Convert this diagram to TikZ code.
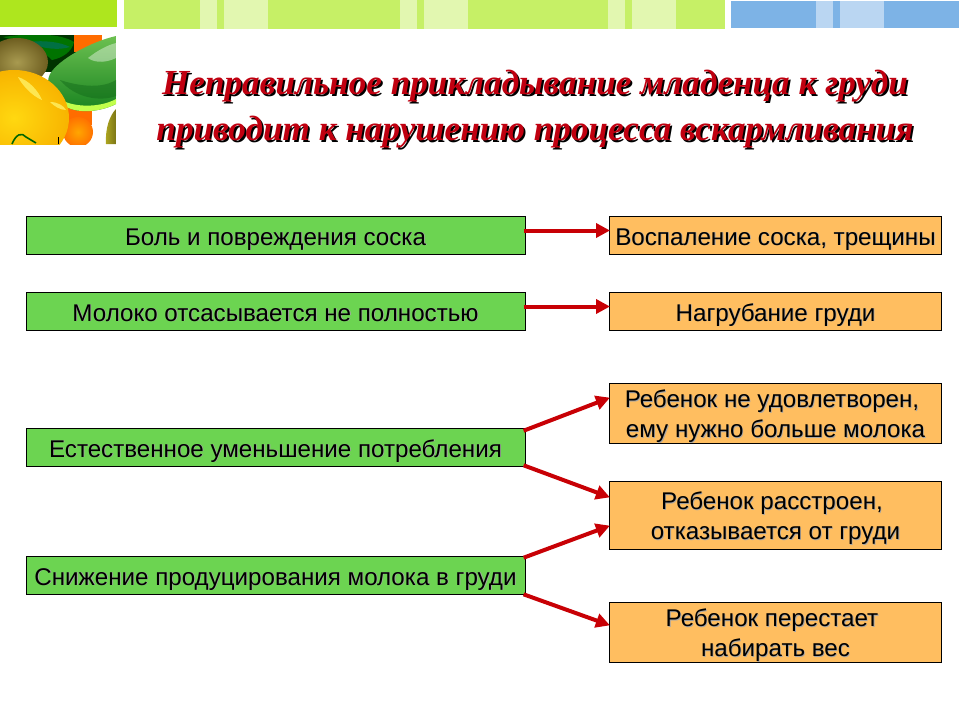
\documentclass[tikz,border=0pt]{standalone}
\usepackage{fontspec}
\setmainfont{Liberation Sans}
\newfontfamily\titlefont{Liberation Serif}
\usetikzlibrary{arrows.meta}
\definecolor{greenbox}{HTML}{6CD451}
\definecolor{orangebox}{HTML}{FFBE60}
\definecolor{arrowred}{HTML}{C80005}
\definecolor{titlered}{HTML}{C00010}
\definecolor{barlime}{HTML}{AEE61E}
\definecolor{barpale}{HTML}{C6F066}
\definecolor{barpaler}{HTML}{E2F7B0}
\definecolor{barblue}{HTML}{7DB3E6}
\definecolor{barbluel}{HTML}{BAD6F2}
\definecolor{kiwiin}{HTML}{A89A50}
\definecolor{kiwiout}{HTML}{6E5E20}
\definecolor{lemonin}{HTML}{FFD810}
\definecolor{lemonout}{HTML}{F8B400}
\definecolor{melontop}{HTML}{6CC050}
\definecolor{melonbot}{HTML}{14801E}
\definecolor{oliveside}{HTML}{B0A820}
\newcommand{\shtxt}[1]{\leavevmode\rlap{\kern0.8pt\raisebox{-0.8pt}{\textcolor{black!35}{#1}}}#1}
\newcommand{\tallstrut}{\rule[-6pt]{0pt}{31pt}}
\newcommand{\twostrut}{\rule{0pt}{24pt}}
\newcommand{\titlelines}{Неправильное прикладывание младенца к груди\\приводит к нарушению процесса вскармливания}
\tikzset{
  x=1pt,y=-1pt,
  box/.style={draw=black,line width=1pt,minimum height=38pt,inner sep=0pt,align=center,font=\fontsize{24.15}{30}\selectfont,text=black},
  gbox/.style={box,fill=greenbox,minimum width=499pt},
  obox/.style={box,fill=orangebox,minimum width=332pt},
  arrowline/.style={draw=arrowred,line width=4pt,-{Triangle[length=14pt,width=14pt]},shorten >=-1pt,shorten <=-2pt},
  titletext/.style={font=\titlefont\fontsize{35.2}{46}\selectfont\bfseries\itshape,align=center,inner sep=0pt}
}
\begin{document}
\begin{tikzpicture}
\useasboundingbox (0,0) rectangle (960,720);
\fill[white] (0,0) rectangle (960,720);
% top bars
\fill[barlime] (0,0) rectangle (117,27);
\fill[barpale] (124,0) rectangle (725,29);
\foreach \a/\b in {200/217,224/268,400/417,424/468,608/625,632/676}{\fill[barpaler] (\a,0) rectangle (\b,29);}
\fill[barblue] (731,1) rectangle (959,28);
\fill[barbluel] (816,1) rectangle (833,28);
\fill[barbluel] (840,1) rectangle (884,28);
% fruit picture
\begin{scope}
\clip (0,35) rectangle (116,144);
\fill[white] (0,35) rectangle (116,144);
% background: leaf, dark, orange
\fill[black!80!green] (0,35) rectangle (85,72);
\fill[orange!85!red] (74,35) rectangle (102,52);
\fill[green!45!black] (3,37) .. controls (30,33) and (60,33) .. (74,42) .. controls (72,52) and (62,58) .. (52,60) .. controls (40,48) and (20,42) .. (3,37) -- cycle;
\fill[green!25!teal!70!black] (28,42) .. controls (45,40) and (60,42) .. (70,47) .. controls (60,50) and (45,50) .. (28,42) -- cycle;
% fruit below green one
\fill[orange!85!red] (66,108) rectangle (96,125);
\fill[white] (92,108) -- (112,108) -- (108,144) -- (92,144) -- cycle;
\shade[inner color=orange!70!yellow,outer color=orange!90!red] (78,132) circle [radius=15];
\shade[left color=oliveside,right color=oliveside!70!black] (106,144) .. controls (105,128) and (110,115) .. (116,109) -- (116,144) -- cycle;
% green fruit
\shade[top color=melontop,bottom color=melonbot] (116,36) -- (116,104) .. controls (100,112) and (75,115) .. (62,104) .. controls (50,94) and (45,84) .. (50,74) .. controls (58,60) and (90,42) .. (116,36) -- cycle;
\fill[melonbot!80!black,opacity=.45] (60,80) .. controls (75,85) and (100,90) .. (116,80) -- (116,96) .. controls (100,102) and (75,98) .. (60,80) -- cycle;
\fill[white,opacity=.4] (88,58) .. controls (98,50) and (108,45) .. (116,43) -- (116,58) .. controls (108,62) and (96,64) .. (88,58) -- cycle;
\fill[green!35!yellow!70!white] (58,98) .. controls (72,108) and (100,108) .. (116,99) -- (116,104) .. controls (100,112) and (75,115) .. (62,104) -- cycle;
% kiwi
\shade[inner color=kiwiin,outer color=kiwiout] (17,62) ellipse [x radius=31,y radius=24];
% lemon
\shade[inner color=lemonin,outer color=lemonout] (14,118) ellipse [x radius=55,y radius=48];
\fill[yellow!55!white,opacity=.7] (18,77) .. controls (28,80) and (38,90) .. (42,100) .. controls (32,96) and (22,85) .. (18,77) -- cycle;
\fill[yellow!55!white,opacity=.7] (50,102) .. controls (58,102) and (64,106) .. (66,110) .. controls (60,110) and (54,106) .. (50,102) -- cycle;
% stem
\draw[green!40!black,line width=1.6pt] (12,144) .. controls (16,134) and (22,132) .. (26,137) -- (36,143);
\draw[black,line width=.8pt] (58,137) -- (58,144);
\end{scope}
% title
\node[titletext,text=black] at (536.8,110.8) {\titlelines};
\node[titletext,text=titlered] (title) at (535,109) {\titlelines};
% left boxes
\node[gbox] (a1) at (275.5,235.5) {\tallstrut\shtxt{Боль и повреждения соска}};
\node[gbox] (a2) at (275.5,311.5) {\tallstrut\shtxt{Молоко отсасывается не полностью}};
\node[gbox] (a3) at (275.5,447.5) {\tallstrut\shtxt{Естественное уменьшение потребления}};
\node[gbox] (a4) at (275.5,575.5) {\tallstrut\shtxt{Снижение продуцирования молока в груди}};
% right boxes
\node[obox] (b1) at (775.5,235.5) {\tallstrut\shtxt{Воспаление соска, трещины}};
\node[obox] (b2) at (775.5,311.5) {\tallstrut\shtxt{Нагрубание груди}};
\node[obox,minimum height=60pt] (b3) at (775.5,413.5) {\twostrut\shtxt{Ребенок не удовлетворен,}\hspace*{7pt}\\\shtxt{ему нужно больше молока}};
\node[obox,minimum height=68pt] (b4) at (775.5,515.5) {\twostrut\shtxt{Ребенок расстроен,}\hspace*{7pt}\\\shtxt{отказывается от груди}};
\node[obox,minimum height=60pt] (b5) at (775.5,632.5) {\twostrut\shtxt{Ребенок перестает}\hspace*{7pt}\\\shtxt{набирать вес}};
% connectors
\draw[arrowline] ([yshift=5pt]a1.east) -- ([yshift=5pt]b1.west);
\draw[arrowline] ([yshift=5pt]a2.east) -- ([yshift=5pt]b2.west);
\draw[arrowline] ([yshift=-2pt]a3.north east) -- ([yshift=15.5pt]b3.west);
\draw[arrowline] ([yshift=1pt]a3.south east) -- ([yshift=18.5pt]b4.west);
\draw[arrowline] ([yshift=-1pt]a4.north east) -- ([yshift=-10.5pt]b4.west);
\draw[arrowline] (a4.south east) -- ([yshift=7.5pt]b5.west);
\end{tikzpicture}
\end{document}
